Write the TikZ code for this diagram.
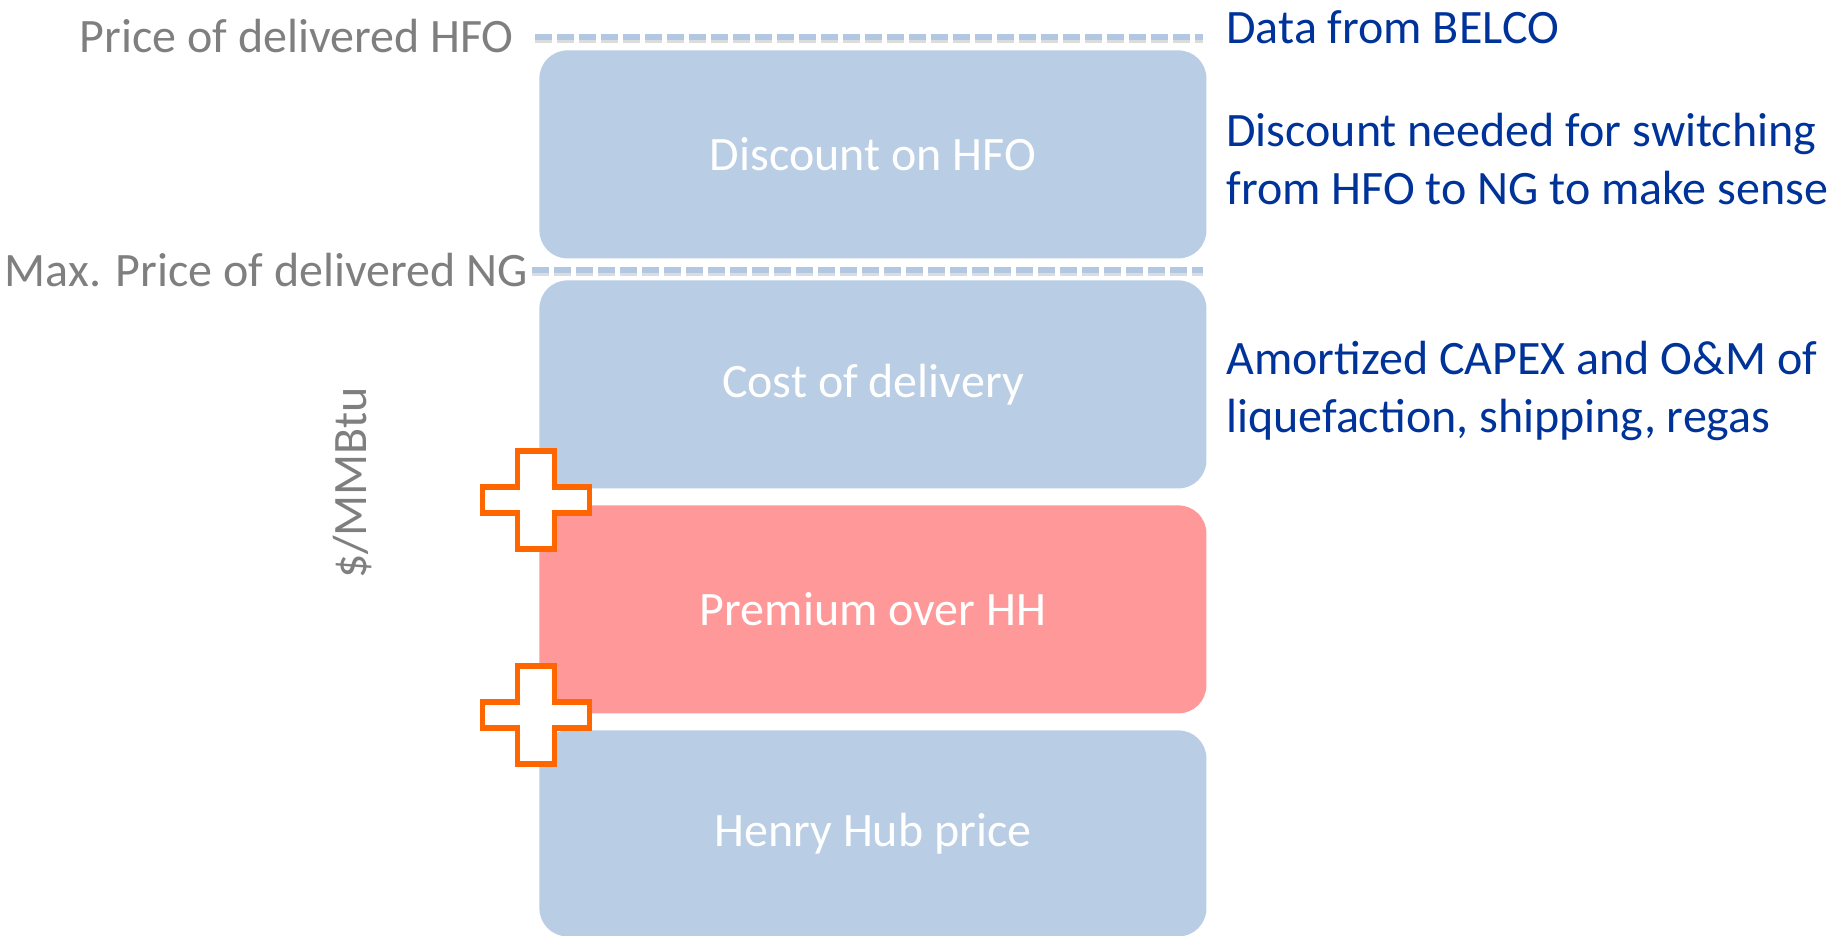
\documentclass[tikz,border=0pt]{standalone}
\usepackage{fontspec}
\setmainfont{Carlito}
\definecolor{boxblue}{RGB}{185,205,228}
\definecolor{boxpink}{RGB}{255,153,153}
\definecolor{plusorange}{RGB}{255,102,0}
\definecolor{notegray}{RGB}{127,127,127}
\definecolor{noteblue}{RGB}{0,51,153}
\definecolor{ruleblue}{RGB}{178,199,226}
\definecolor{ruleshade}{RGB}{140,140,140}
\tikzset{
  bar/.style={rounded corners=14pt, minimum width=333.5pt, minimum height=104pt,
    inner sep=0pt, text=white, anchor=north west,
    font=\fontsize{24}{29}\selectfont},
  levellabel/.style={text=notegray, inner sep=0pt, anchor=base east,
    font=\fontsize{24}{29}\selectfont},
  note/.style={text=noteblue, inner sep=0pt, anchor=base west, align=left,
    font=\fontsize{24}{29}\selectfont},
  levelrule/.style={ruleblue, line width=2.8pt, dash pattern=on 8.5pt off 2.5pt},
  levelshade/.style={ruleshade, line width=3.4pt, dash pattern=on 8.5pt off 2.5pt, opacity=0.3},
  crossline/.style={draw=plusorange, fill=white, line width=2.6pt, line join=miter},
  plus/.pic={
    \path[crossline] (-18.5,-49) -- (18.5,-49) -- (18.5,-13) -- (53.5,-13)
      -- (53.5,13) -- (18.5,13) -- (18.5,49) -- (-18.5,49) -- (-18.5,13)
      -- (-53.5,13) -- (-53.5,-13) -- (-18.5,-13) -- cycle;
  }
}
\begin{document}
\begin{tikzpicture}[x=0.5pt, y=-0.5pt]
  \useasboundingbox (0,0) rectangle (1840,936);

  % stacked price components
  \node[bar, fill=boxblue] (discount) at (539,50) {Discount on HFO};
  \node[bar, fill=boxblue] (delivery) at (539,280) {Cost of delivery};
  \node[bar, fill=boxpink] (premium) at (539,505) {Premium over HH};
  \node[bar, fill=boxblue, minimum height=103pt] (henry) at (539,730) {Henry Hub price};

  % price levels
  \node[levellabel] (hfoprice) at (514,53) {Price of delivered HFO};
  \node[levellabel] (ngprice) at (528,286) {Max. Price of delivered NG};
  \coordinate (hfoL) at (535,37);
  \coordinate (hfoR) at (1203,37);
  \coordinate (ngL) at (532,270);
  \coordinate (ngR) at (1203,270);
  \draw[levelshade] ([yshift=-1.5pt]hfoL) -- ([yshift=-1.5pt]hfoR);
  \draw[levelshade] ([yshift=-1.5pt]ngL) -- ([yshift=-1.5pt]ngR);
  \draw[levelrule] (hfoL) -- (hfoR);
  \draw[levelrule] (ngL) -- (ngR);

  % axis unit
  \node[text=notegray, rotate=90, inner sep=0pt,
    font=\fontsize{24}{29}\selectfont] (unit) at (353,483) {\$/MMBtu};

  % plus signs between components
  \pic at (536,500) {plus};
  \pic at (536,715) {plus};

  % explanatory notes (anchored on the baseline of their last line)
  \node[note] (belco) at (1226,44) {Data from BELCO};
  \node[note] (switch) at (1226,205) {Discount needed for switching\\from HFO to NG to make sense};
  \node[note] (capex) at (1226,432) {Amortized CAPEX and O\&M of\\liquefaction, shipping, regas};
\end{tikzpicture}
\end{document}
